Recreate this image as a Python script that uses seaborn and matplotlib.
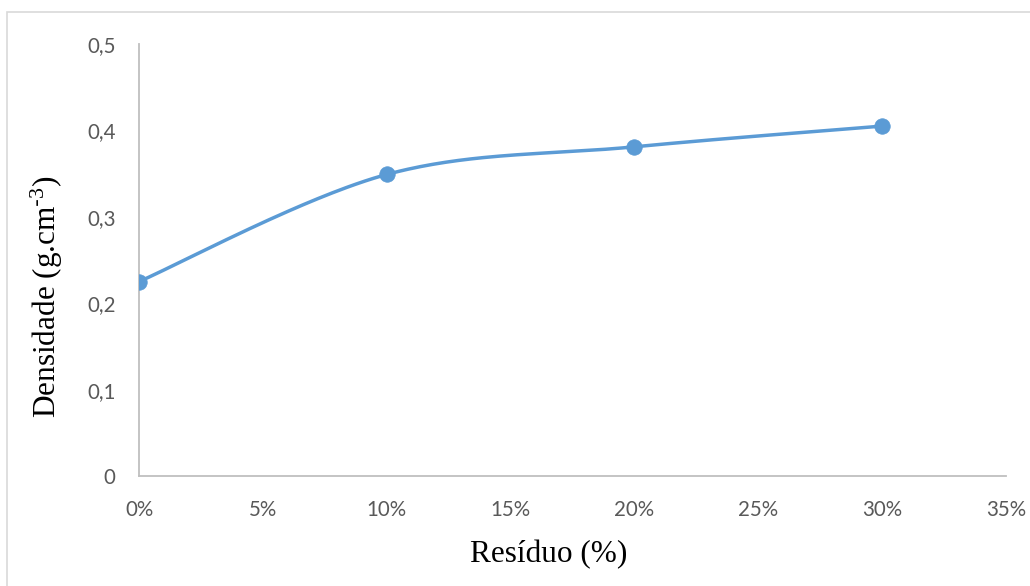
import numpy as np
import pandas as pd
import matplotlib
matplotlib.use("Agg")
import matplotlib.pyplot as plt
from matplotlib.patches import Rectangle
from matplotlib.ticker import FuncFormatter
import seaborn as sns

# Data: residue content (fraction) and density (g/cm3)
residuo = [0.0, 0.10, 0.20, 0.30]
densidade = [0.225, 0.349, 0.381, 0.405]

x_ticks = [0.0, 0.05, 0.10, 0.15, 0.20, 0.25, 0.30, 0.35]
y_ticks = [0.0, 0.1, 0.2, 0.3, 0.4, 0.5]

sns.set_theme(style="white")
plt.rcParams["font.family"] = ["Lato", "DejaVu Sans"]
plt.rcParams["mathtext.default"] = "regular"

W, H, DPI = 1030, 586, 100
fig = plt.figure(figsize=(W / DPI, H / DPI), dpi=DPI)
ax = fig.add_axes([139 / W, 1 - 476 / H, 867 / W, 432 / H])

xmin, xmax = 0.0, 0.35
ymin, ymax = 0.0, 0.5
ax.set_xlim(xmin, xmax)
ax.set_ylim(ymin, ymax)

# Smoothed connecting line (cubic Bezier segments, Catmull-Rom style control points
# computed in screen-proportional space)
sx = 867 / (xmax - xmin)
sy = 432 / (ymax - ymin)
P = np.column_stack([np.array(residuo) * sx, np.array(densidade) * sy])
n = len(P)
curve = []
t = np.linspace(0, 1, 60)
for i in range(n - 1):
    p0 = P[i]
    p3 = P[i + 1]
    prev = P[i - 1] if i > 0 else P[i]
    nxt = P[i + 2] if i + 2 < n else P[i + 1]
    c1 = p0 + (p3 - prev) / 6.0
    c2 = p3 - (nxt - p0) / 6.0
    seg = ((1 - t) ** 3)[:, None] * p0 + (3 * (1 - t) ** 2 * t)[:, None] * c1 \
        + (3 * (1 - t) * t ** 2)[:, None] * c2 + (t ** 3)[:, None] * p3
    curve.append(seg if i == 0 else seg[1:])
curve = np.vstack(curve)
df_curve = pd.DataFrame({"x": curve[:, 0] / sx, "y": curve[:, 1] / sy})
df_pts = pd.DataFrame({"x": residuo, "y": densidade})

blue = "#5B9BD5"
sns.lineplot(data=df_curve, x="x", y="y", sort=False, estimator=None,
             color=blue, linewidth=2.5, ax=ax, zorder=3)
sns.scatterplot(data=df_pts, x="x", y="y", color=blue, s=125,
                edgecolor=blue, linewidth=0.5, ax=ax, zorder=4)

ax.set_xticks(x_ticks)
ax.set_yticks(y_ticks)
ax.xaxis.set_major_formatter(FuncFormatter(lambda v, p: f"{v * 100:.0f}%"))
ax.yaxis.set_major_formatter(FuncFormatter(lambda v, p: "0" if abs(v) < 1e-9 else f"{v:.1f}".replace(".", ",")))
ax.tick_params(axis="both", length=0, labelsize=14.8, labelcolor="#595959")
ax.tick_params(axis="y", pad=17)
ax.tick_params(axis="x", pad=17)

for side in ["top", "right"]:
    ax.spines[side].set_visible(False)
for side in ["left", "bottom"]:
    ax.spines[side].set_color("#BFBFBF")
    ax.spines[side].set_linewidth(1.3)

serif = ["Liberation Serif", "DejaVu Serif"]
ax.set_xlabel("Resíduo (%)", fontsize=22.5, family=serif, color="black")
ax.set_ylabel(r"Densidade (g.cm$^{\text{-}3}$)", fontsize=22.5, family=serif, color="black")
ax.xaxis.set_label_coords(0.472, -0.181)
ax.yaxis.set_label_coords(-0.106, 0.415)
ax.xaxis.label.set_va("center")
ax.yaxis.label.set_va("center")

# Chart area border
fig.patches.append(Rectangle((7 / W, -0.1), 1.2, 1.1 - 12 / H, transform=fig.transFigure,
                             fill=False, edgecolor="#D9D9D9", linewidth=1.2))

fig.savefig("out.png", dpi=DPI)
